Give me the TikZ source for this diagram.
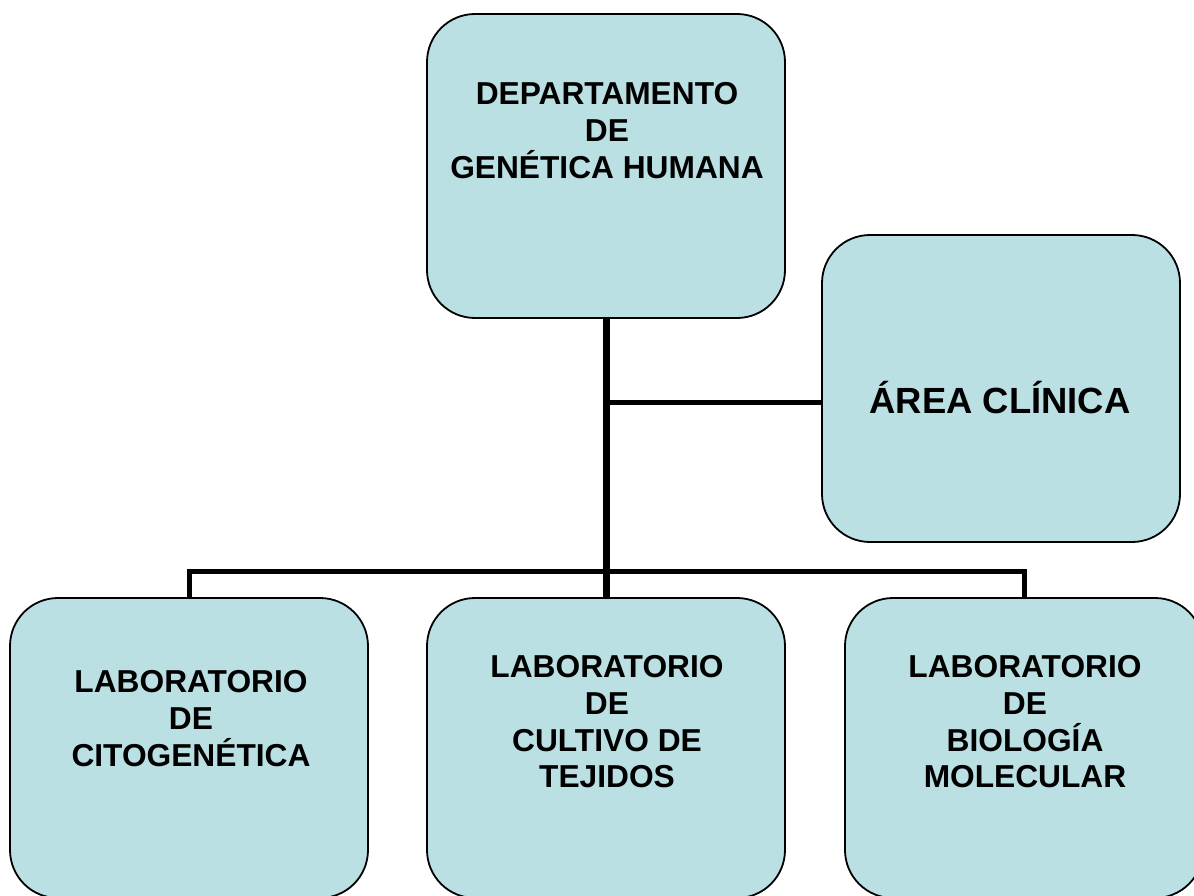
\documentclass[tikz,border=0pt]{standalone}
\usepackage{fontspec}
\setmainfont{Liberation Sans}
\definecolor{boxfill}{RGB}{186,224,227}
\begin{document}
\begin{tikzpicture}[x=1pt,y=-1pt,
  orgbox/.style={draw=black, line width=1.8pt, fill=boxfill, rounded corners=48pt,
    minimum width=358pt, inner sep=0pt},
  boxtext/.style={align=center, inner sep=0pt, anchor=north,
    font=\fontsize{31.7}{36.7}\selectfont\bfseries},
  bigtext/.style={inner sep=0pt, anchor=base, font=\fontsize{36.4}{43}\selectfont\bfseries},
  trunk/.style={line width=7pt},
  branch/.style={line width=5pt}]
\useasboundingbox (0,0) rectangle (1194,896);
% boxes
\node[orgbox, minimum height=304pt] (top) at (606,166) {};
\node[orgbox, minimum height=307pt] (clin) at (1001,388.5) {};
\node[orgbox, minimum height=300pt] (left) at (189,748) {};
\node[orgbox, minimum height=300pt] (mid) at (606,748) {};
\node[orgbox, minimum height=300pt] (right) at (1024,748) {};
% texts
\node[boxtext] (toptext) at (607,82.5) {DEPARTAMENTO\\DE\\GENÉTICA HUMANA};
\node[boxtext] (lefttext) at (191,670.5) {LABORATORIO\\DE\\CITOGENÉTICA};
\node[boxtext] (midtext) at (607,655.5) {LABORATORIO\\DE\\CULTIVO DE\\TEJIDOS};
\node[boxtext] (righttext) at (1025,655.5) {LABORATORIO\\DE\\BIOLOGÍA\\MOLECULAR};
\node[bigtext] (clintext) at (1000,413) {ÁREA CLÍNICA};
% connectors
\coordinate (bus) at (606,571);
\coordinate (j1) at (606,402);
\draw[branch] (j1) -- (j1 -| clin.west);
\draw[branch] (left.north) -- (left.north |- bus) -- (right.north |- bus) -- (right.north);
\draw[trunk] (top.south) -- (mid.north);
\end{tikzpicture}
\end{document}
